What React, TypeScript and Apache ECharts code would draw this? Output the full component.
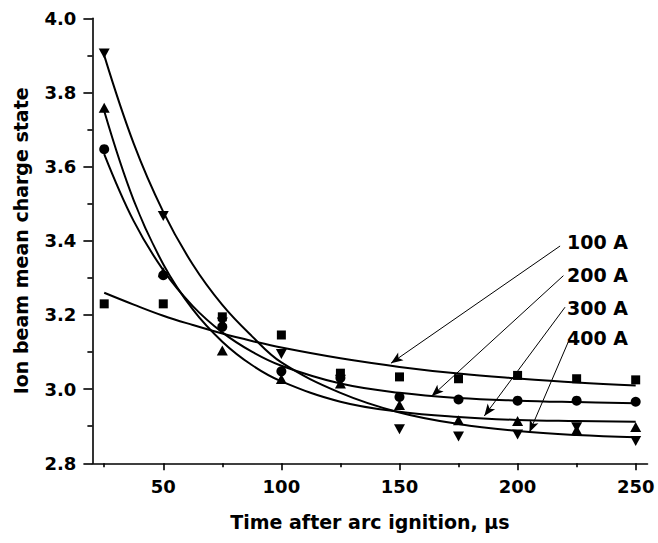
import React, { useEffect, useRef } from "react";
import * as echarts from "echarts";

// Measured points (time, µs)
const times = [25, 50, 75, 100, 125, 150, 175, 200, 225, 250];
const q100 = [3.23, 3.23, 3.195, 3.146, 3.043, 3.033, 3.028, 3.037, 3.028, 3.025];
const q200 = [3.647, 3.307, 3.168, 3.048, 3.03, 2.979, 2.972, 2.969, 2.969, 2.966];
const q300 = [3.759, 3.315, 3.104, 3.027, 3.015, 2.957, 2.916, 2.914, 2.89, 2.898];
const q400 = [3.905, 3.467, 3.18, 3.095, 3.025, 2.892, 2.872, 2.878, 2.8975, 2.86];

// Fitted curves
const curveTimes = [25, 37.5, 50, 62.5, 75, 87.5, 100, 125, 150, 175, 200, 225, 250];
const fit100 = [3.26, 3.228, 3.198, 3.173, 3.15, 3.13, 3.112, 3.083, 3.06, 3.042, 3.029, 3.018, 3.01];
const fit200 = [3.634, 3.453, 3.321, 3.224, 3.153, 3.101, 3.063, 3.015, 2.99, 2.976, 2.969, 2.965, 2.962];
const fit300 = [3.75, 3.509, 3.337, 3.215, 3.128, 3.065, 3.021, 2.966, 2.939, 2.925, 2.917, 2.914, 2.912];
const fit400 = [3.9, 3.662, 3.478, 3.336, 3.227, 3.143, 3.072, 2.99, 2.937, 2.906, 2.887, 2.876, 2.87];

// Annotations: label, arrow start (time, value), arrow tip (time, value)
const labels = ["100 A", "200 A", "300 A", "400 A"];
const arrowFrom = [
  [218.0, 3.386],
  [219.4, 3.306],
  [220.1, 3.221],
  [221.5, 3.128],
];
const arrowTo = [
  [146.4, 3.07],
  [163.6, 2.981],
  [185.9, 2.9275],
  [205.0, 2.8835],
];

const xMajor = [50, 100, 150, 200, 250];
const xMinor = [25, 75, 125, 175, 225];

const FONT = "DejaVu Sans";

export default function App() {
  const ref = useRef<HTMLDivElement>(null);

  useEffect(() => {
    document.body.style.margin = "0";
    if (!ref.current) return;
    const chart = echarts.init(ref.current, undefined, { renderer: "svg" });

    const pair = (xs: number[], ys: number[]) => xs.map((x, i) => [x, ys[i]]);

    const scatter = (name: string, ys: number[], symbol: string, size: any, rotate = 0) => ({
      name,
      type: "scatter",
      data: pair(times, ys),
      symbol,
      symbolSize: size,
      symbolRotate: rotate,
      itemStyle: { color: "#000", opacity: 1 },
      z: 5,
    });

    const curve = (name: string, ys: number[]) => ({
      name,
      type: "line",
      data: pair(curveTimes, ys),
      smooth: 0.4,
      showSymbol: false,
      symbol: "none",
      lineStyle: { color: "#000", width: 2 },
      z: 4,
    });

    const labelStyle = {
      color: "#000",
      fontFamily: FONT,
      fontWeight: "bold",
      fontSize: 18,
    };

    const labelY = [241.7, 275, 308, 337.5];

    chart.setOption({
      animation: false,
      backgroundColor: "#fff",
      grid: { left: 92.4, right: 10.5, top: 18.3, bottom: 79.7, containLabel: false },
      xAxis: [
        {
          type: "value",
          min: 20,
          max: 255,
          name: "Time after arc ignition, \u00b5s",
          nameLocation: "middle",
          nameGap: 49,
          nameTextStyle: { color: "#000", fontFamily: FONT, fontWeight: "bold", fontSize: 19 },
          axisLine: { show: true, lineStyle: { color: "#000", width: 1.6 } },
          axisTick: {
            show: true,
            customValues: xMajor,
            length: 7,
            inside: false,
            lineStyle: { color: "#000", width: 1.6 },
          },
          axisLabel: { customValues: xMajor, margin: 14, ...labelStyle },
          splitLine: { show: false },
        },
        {
          type: "value",
          min: 20,
          max: 255,
          position: "bottom",
          axisLine: { show: false },
          axisTick: {
            show: true,
            customValues: xMinor,
            length: 4,
            inside: false,
            lineStyle: { color: "#000", width: 1.6 },
          },
          axisLabel: { show: false },
          splitLine: { show: false },
        },
      ],
      yAxis: {
        type: "value",
        min: 2.8,
        max: 4.0,
        interval: 0.2,
        name: "Ion beam mean charge state",
        nameLocation: "middle",
        nameGap: 62,
        nameTextStyle: { color: "#000", fontFamily: FONT, fontWeight: "bold", fontSize: 19 },
        axisLine: { show: true, lineStyle: { color: "#000", width: 1.6 } },
        axisTick: { show: true, length: 9, inside: false, lineStyle: { color: "#000", width: 1.6 } },
        minorTick: { show: true, splitNumber: 2, length: 5, lineStyle: { color: "#000", width: 1.6 } },
        axisLabel: {
          margin: 16,
          formatter: (v: number) => v.toFixed(1),
          ...labelStyle,
        },
        splitLine: { show: false },
        minorSplitLine: { show: false },
      },
      series: [
        curve("fit100", fit100),
        curve("fit200", fit200),
        curve("fit300", fit300),
        curve("fit400", fit400),
        scatter("100 A", q100, "rect", 9),
        scatter("200 A", q200, "circle", 10),
        scatter("300 A", q300, "triangle", [11, 10]),
        scatter("400 A", q400, "triangle", [11, 10], 180),
        {
          name: "arrows",
          type: "line",
          data: [],
          markLine: {
            silent: true,
            symbol: ["none", "arrow"],
            symbolSize: [7, 12],
            label: { show: false },
            lineStyle: { color: "#000", width: 1, type: "solid", opacity: 1 },
            itemStyle: { color: "#000" },
            data: arrowFrom.map((from, i) => [
              { coord: from },
              { coord: arrowTo[i] },
            ]),
          },
        },
      ],
      graphic: labels.map((t, i) => ({
        type: "text",
        x: 567,
        y: labelY[i],
        style: {
          text: t,
          fill: "#000",
          fontFamily: FONT,
          fontWeight: "bold",
          fontSize: 19,
          align: "left",
          verticalAlign: "middle",
        },
        z: 10,
      })),
    });

    return () => chart.dispose();
  }, []);

  return <div ref={ref} style={{ width: 658, height: 543 }} />;
}
